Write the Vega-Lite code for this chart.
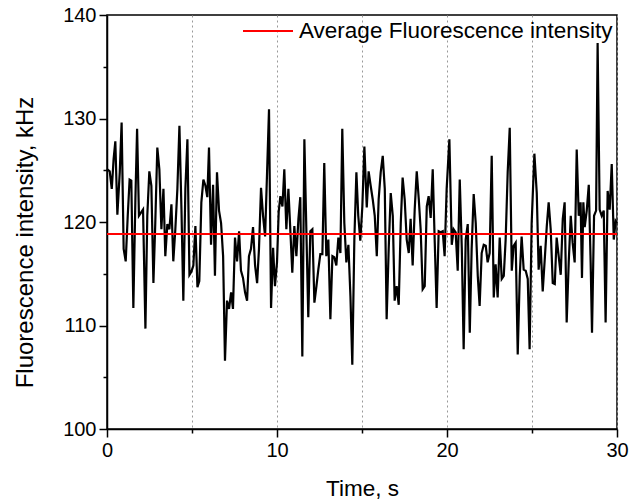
{
  "$schema": "https://vega.github.io/schema/vega-lite/v6.json",
  "width": 510,
  "height": 414,
  "autosize": "none",
  "padding": {"left": 107, "top": 15, "right": 14, "bottom": 75},
  "background": "white",
  "config": {
    "font": "Liberation Sans",
    "view": {"stroke": "black", "strokeWidth": 1.5},
    "axis": {
      "domainColor": "black", "domainWidth": 1.5,
      "tickColor": "black", "tickWidth": 1.5,
      "labelColor": "black", "titleColor": "black",
      "labelFont": "Liberation Sans", "titleFont": "Liberation Sans",
      "labelFontSize": 20, "titleFontWeight": "normal",
      "labelFlush": false, "labelOverlap": false, "zindex": 1
    }
  },
  "datasets": {
    "trace": [
      {"t":0.00,"v":125.1},{"t":0.16,"v":124.9},{"t":0.28,"v":123.2},{"t":0.39,"v":126.1},{"t":0.49,"v":127.8},{"t":0.61,"v":120.7},{"t":0.75,"v":124.8},{"t":0.86,"v":129.6},{"t":0.98,"v":117.4},{"t":1.10,"v":116.2},
      {"t":1.22,"v":120.6},{"t":1.33,"v":124.1},{"t":1.43,"v":124.0},{"t":1.55,"v":111.7},{"t":1.67,"v":122.2},{"t":1.77,"v":129.0},{"t":1.88,"v":120.6},{"t":2.00,"v":120.9},{"t":2.12,"v":121.2},{"t":2.26,"v":109.7},
      {"t":2.37,"v":120.6},{"t":2.49,"v":124.9},{"t":2.61,"v":123.5},{"t":2.73,"v":114.1},{"t":2.84,"v":119.9},{"t":2.96,"v":127.2},{"t":3.08,"v":125.1},{"t":3.20,"v":119.3},{"t":3.32,"v":123.2},{"t":3.43,"v":116.7},
      {"t":3.55,"v":119.8},{"t":3.67,"v":119.3},{"t":3.79,"v":121.7},{"t":3.90,"v":116.2},{"t":4.02,"v":119.3},{"t":4.14,"v":123.2},{"t":4.26,"v":129.3},{"t":4.38,"v":121.2},{"t":4.49,"v":112.4},{"t":4.61,"v":123.2},
      {"t":4.73,"v":128.0},{"t":4.85,"v":114.9},{"t":4.96,"v":115.2},{"t":5.08,"v":115.8},{"t":5.20,"v":119.6},{"t":5.32,"v":113.7},{"t":5.43,"v":114.3},{"t":5.55,"v":121.9},{"t":5.67,"v":124.1},{"t":5.79,"v":123.5},
      {"t":5.90,"v":122.4},{"t":6.00,"v":127.2},{"t":6.12,"v":117.8},{"t":6.24,"v":123.6},{"t":6.35,"v":114.8},{"t":6.47,"v":124.8},{"t":6.59,"v":121.1},{"t":6.71,"v":119.9},{"t":6.83,"v":116.7},{"t":6.94,"v":106.6},
      {"t":7.06,"v":112.4},{"t":7.18,"v":111.6},{"t":7.30,"v":113.2},{"t":7.41,"v":111.6},{"t":7.53,"v":118.5},{"t":7.65,"v":116.2},{"t":7.77,"v":119.1},{"t":7.88,"v":115.3},{"t":8.00,"v":114.6},{"t":8.12,"v":113.2},
      {"t":8.24,"v":112.4},{"t":8.35,"v":116.7},{"t":8.47,"v":117.4},{"t":8.59,"v":119.5},{"t":8.71,"v":115.8},{"t":8.83,"v":114.1},{"t":8.94,"v":117.4},{"t":9.06,"v":123.3},{"t":9.18,"v":120.6},{"t":9.30,"v":118.6},
      {"t":9.53,"v":130.9},{"t":9.65,"v":111.7},{"t":9.77,"v":117.5},{"t":9.88,"v":113.8},{"t":10.00,"v":116.1},{"t":10.10,"v":121.0},{"t":10.20,"v":122.5},{"t":10.32,"v":121.5},{"t":10.43,"v":125.1},{"t":10.55,"v":119.3},
      {"t":10.67,"v":123.2},{"t":10.79,"v":119.0},{"t":10.90,"v":115.1},{"t":11.02,"v":119.6},{"t":11.14,"v":116.7},{"t":11.26,"v":120.3},{"t":11.37,"v":122.4},{"t":11.49,"v":107.0},{"t":11.61,"v":128.0},{"t":11.73,"v":119.0},
      {"t":11.84,"v":110.8},{"t":11.96,"v":119.1},{"t":12.08,"v":119.3},{"t":12.20,"v":112.2},{"t":12.32,"v":113.8},{"t":12.43,"v":115.4},{"t":12.55,"v":116.9},{"t":12.67,"v":116.9},{"t":12.78,"v":125.7},{"t":12.90,"v":116.7},
      {"t":13.02,"v":118.3},{"t":13.14,"v":110.6},{"t":13.26,"v":116.7},{"t":13.37,"v":116.6},{"t":13.49,"v":115.8},{"t":13.61,"v":118.5},{"t":13.73,"v":117.0},{"t":13.84,"v":129.0},{"t":13.96,"v":119.9},{"t":14.08,"v":116.1},
      {"t":14.20,"v":117.8},{"t":14.32,"v":112.8},{"t":14.43,"v":106.2},{"t":14.55,"v":118.3},{"t":14.67,"v":124.8},{"t":14.78,"v":120.6},{"t":14.90,"v":118.2},{"t":15.02,"v":121.5},{"t":15.14,"v":127.3},{"t":15.28,"v":121.4},
      {"t":15.39,"v":124.9},{"t":15.51,"v":123.5},{"t":15.63,"v":122.2},{"t":15.75,"v":120.6},{"t":15.87,"v":116.7},{"t":15.98,"v":122.2},{"t":16.10,"v":124.8},{"t":16.22,"v":126.4},{"t":16.34,"v":123.2},{"t":16.45,"v":110.6},
      {"t":16.57,"v":117.4},{"t":16.69,"v":122.8},{"t":16.81,"v":120.6},{"t":16.92,"v":112.4},{"t":17.04,"v":113.8},{"t":17.16,"v":112.0},{"t":17.28,"v":119.9},{"t":17.39,"v":124.3},{"t":17.51,"v":122.2},{"t":17.63,"v":118.3},
      {"t":17.75,"v":117.0},{"t":17.86,"v":120.3},{"t":17.98,"v":115.8},{"t":18.10,"v":121.2},{"t":18.22,"v":124.9},{"t":18.34,"v":122.2},{"t":18.45,"v":119.3},{"t":18.57,"v":113.5},{"t":18.69,"v":113.8},{"t":18.81,"v":121.5},
      {"t":18.92,"v":122.5},{"t":19.04,"v":120.4},{"t":19.16,"v":125.1},{"t":19.28,"v":118.0},{"t":19.39,"v":111.7},{"t":19.51,"v":119.1},{"t":19.63,"v":119.0},{"t":19.75,"v":119.1},{"t":19.86,"v":116.7},{"t":19.98,"v":123.2},
      {"t":20.14,"v":128.0},{"t":20.28,"v":117.8},{"t":20.39,"v":119.3},{"t":20.51,"v":119.0},{"t":20.63,"v":115.3},{"t":20.75,"v":124.1},{"t":20.87,"v":117.5},{"t":20.98,"v":107.7},{"t":21.10,"v":118.3},{"t":21.22,"v":119.8},
      {"t":21.34,"v":109.3},{"t":21.45,"v":117.4},{"t":21.57,"v":122.7},{"t":21.69,"v":119.9},{"t":21.81,"v":114.8},{"t":21.92,"v":111.9},{"t":22.04,"v":117.0},{"t":22.16,"v":117.8},{"t":22.28,"v":117.7},{"t":22.39,"v":116.1},
      {"t":22.51,"v":117.0},{"t":22.63,"v":126.4},{"t":22.75,"v":112.7},{"t":22.86,"v":115.9},{"t":22.98,"v":112.7},{"t":23.10,"v":118.5},{"t":23.22,"v":114.5},{"t":23.34,"v":114.8},{"t":23.45,"v":118.3},{"t":23.57,"v":124.8},
      {"t":23.69,"v":129.1},{"t":23.81,"v":115.3},{"t":23.92,"v":117.7},{"t":24.04,"v":118.0},{"t":24.16,"v":107.2},{"t":24.28,"v":114.8},{"t":24.39,"v":118.6},{"t":24.51,"v":115.4},{"t":24.63,"v":115.3},{"t":24.75,"v":114.5},
      {"t":24.86,"v":107.7},{"t":24.98,"v":119.9},{"t":25.14,"v":126.6},{"t":25.28,"v":122.8},{"t":25.39,"v":115.4},{"t":25.51,"v":117.7},{"t":25.63,"v":113.3},{"t":25.75,"v":116.4},{"t":25.87,"v":119.6},{"t":25.98,"v":121.9},
      {"t":26.10,"v":119.3},{"t":26.22,"v":114.1},{"t":26.34,"v":114.0},{"t":26.45,"v":118.5},{"t":26.57,"v":116.7},{"t":26.69,"v":114.9},{"t":26.81,"v":120.3},{"t":26.92,"v":121.9},{"t":27.04,"v":110.3},{"t":27.16,"v":116.1},
      {"t":27.28,"v":120.6},{"t":27.39,"v":118.0},{"t":27.51,"v":116.1},{"t":27.63,"v":127.0},{"t":27.75,"v":120.6},{"t":27.86,"v":121.9},{"t":27.94,"v":114.6},{"t":28.02,"v":121.9},{"t":28.10,"v":119.5},{"t":28.22,"v":121.1},
      {"t":28.34,"v":123.6},{"t":28.45,"v":116.1},{"t":28.53,"v":109.3},{"t":28.65,"v":120.6},{"t":28.77,"v":121.1},{"t":28.86,"v":137.3},{"t":28.98,"v":121.2},{"t":29.10,"v":120.6},{"t":29.22,"v":121.1},{"t":29.33,"v":110.3},
      {"t":29.45,"v":123.0},{"t":29.57,"v":121.2},{"t":29.69,"v":125.6},{"t":29.81,"v":118.3},{"t":29.92,"v":120.1},{"t":30.00,"v":119.9}
    ],
    "avg": [{"value": 118.85, "label": "Average Fluorescence intensity"}]
  },
  "layer": [
    {
      "data": {"name": "trace"},
      "mark": {"type": "line", "color": "black", "strokeWidth": 2.2},
      "encoding": {
        "x": {
          "field": "t", "type": "quantitative",
          "scale": {"domain": [0, 30], "nice": false, "zero": false},
          "axis": {
            "title": "Time, s", "titleFontSize": 22.5,
            "titleBaseline": "alphabetic", "titleY": 66,
            "values": [0, 5, 10, 15, 20, 25, 30],
            "labelExpr": "datum.value % 10 === 0 ? datum.label : ''",
            "labelPadding": 3,
            "tickSize": {"condition": {"test": "datum.value % 10 === 0", "value": 8}, "value": 4},
            "grid": true, "gridDash": [2, 3], "gridColor": "#999999", "gridWidth": 1
          }
        },
        "y": {
          "field": "v", "type": "quantitative",
          "scale": {"domain": [100, 140], "nice": false, "zero": false},
          "axis": {
            "title": "Fluorescence intensity, kHz", "titleFontSize": 24,
            "titleAngle": -90, "titleBaseline": "alphabetic", "titleAlign": "center",
            "titleX": -75, "titleY": 227,
            "values": [100, 105, 110, 115, 120, 125, 130, 135, 140],
            "labelExpr": "datum.value % 10 === 0 ? datum.label : ''",
            "labelPadding": 3,
            "tickSize": {"condition": {"test": "datum.value % 10 === 0", "value": 8}, "value": 4},
            "grid": false
          }
        }
      }
    },
    {
      "data": {"name": "avg"},
      "mark": {"type": "rule", "strokeWidth": 2},
      "encoding": {
        "y": {"field": "value", "type": "quantitative"},
        "color": {
          "field": "label", "type": "nominal",
          "scale": {"range": ["#ff0000"]},
          "legend": {
            "title": null, "orient": "none", "legendX": 135, "legendY": -10,
            "symbolType": "stroke", "symbolSize": 2500, "symbolStrokeWidth": 2,
            "labelFontSize": 22.5, "labelColor": "black", "labelFont": "Liberation Sans",
            "labelOffset": 5, "labelLimit": 0, "padding": 0
          }
        }
      }
    }
  ]
}
